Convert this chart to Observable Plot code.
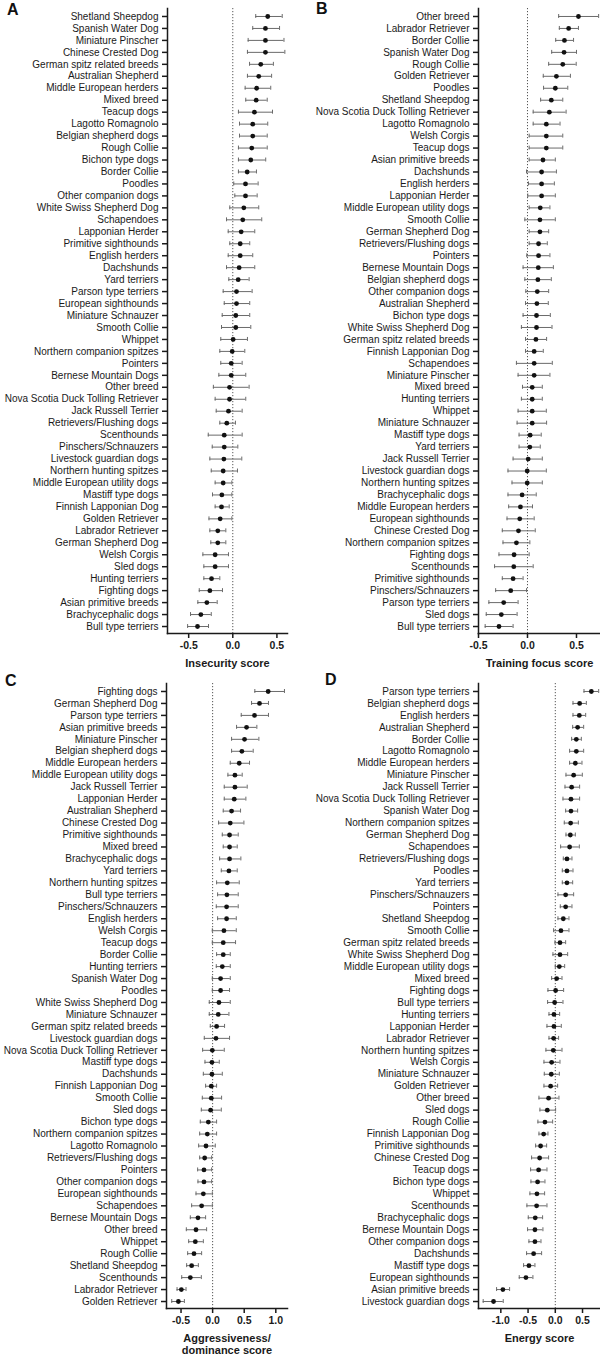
<!DOCTYPE html>
<html>
<head>
<meta charset="utf-8">
<script src="https://cdn.jsdelivr.net/npm/d3@7"></script>
<script src="https://cdn.jsdelivr.net/npm/@observablehq/plot@0.6"></script>
<style>
  html, body { margin: 0; padding: 0; background: #fff; }
  #wrap { position: relative; width: 600px; height: 1357px; overflow: hidden; font-family: "Liberation Sans", Arial, sans-serif; }
  .panel { position: absolute; }
  .letter { position: absolute; font-size: 16px; font-weight: 800; line-height: 15px; color: #111; }
  svg g[aria-label="x-axis tick label"] text { font-weight: bold; }
</style>
</head>
<body>
<div id="wrap"></div>
<script>
// ---------- Panel A: Insecurity score ----------
const namesA = ["Shetland Sheepdog","Spanish Water Dog","Miniature Pinscher","Chinese Crested Dog","German spitz related breeds","Australian Shepherd","Middle European herders","Mixed breed","Teacup dogs","Lagotto Romagnolo","Belgian shepherd dogs","Rough Collie","Bichon type dogs","Border Collie","Poodles","Other companion dogs","White Swiss Shepherd Dog","Schapendoes","Lapponian Herder","Primitive sighthounds","English herders","Dachshunds","Yard terriers","Parson type terriers","European sighthounds","Miniature Schnauzer","Smooth Collie","Whippet","Northern companion spitzes","Pointers","Bernese Mountain Dogs","Other breed","Nova Scotia Duck Tolling Retriever","Jack Russell Terrier","Retrievers/Flushing dogs","Scenthounds","Pinschers/Schnauzers","Livestock guardian dogs","Northern hunting spitzes","Middle European utility dogs","Mastiff type dogs","Finnish Lapponian Dog","Golden Retriever","Labrador Retriever","German Shepherd Dog","Welsh Corgis","Sled dogs","Hunting terriers","Fighting dogs","Asian primitive breeds","Brachycephalic dogs","Bull type terriers"];
const meanA = [0.396,0.37,0.37,0.37,0.317,0.294,0.27,0.265,0.245,0.226,0.226,0.215,0.204,0.163,0.144,0.144,0.125,0.113,0.095,0.084,0.084,0.072,0.061,0.042,0.042,0.034,0.034,0.004,-0.007,-0.018,-0.018,-0.037,-0.037,-0.049,-0.068,-0.097,-0.097,-0.101,-0.109,-0.109,-0.124,-0.128,-0.143,-0.17,-0.17,-0.2,-0.2,-0.241,-0.26,-0.294,-0.362,-0.4];
const loA = [0.26,0.226,0.174,0.166,0.19,0.166,0.14,0.147,0.064,0.076,0.076,0.064,0.064,0.064,0.011,0.023,-0.034,-0.071,-0.052,-0.034,-0.052,-0.071,-0.045,-0.109,-0.097,-0.12,-0.128,-0.136,-0.147,-0.136,-0.158,-0.22,-0.2,-0.188,-0.147,-0.278,-0.233,-0.26,-0.244,-0.2,-0.23,-0.2,-0.27,-0.26,-0.249,-0.339,-0.328,-0.328,-0.38,-0.396,-0.479,-0.512];
const hiA = [0.56,0.53,0.58,0.59,0.46,0.44,0.43,0.39,0.45,0.396,0.39,0.39,0.373,0.268,0.287,0.276,0.294,0.328,0.249,0.192,0.226,0.249,0.185,0.219,0.192,0.192,0.204,0.166,0.136,0.106,0.147,0.185,0.147,0.106,0.03,0.106,0.057,0.102,0.053,-0.011,-0.011,-0.041,-0.011,-0.079,-0.079,-0.049,-0.049,-0.147,-0.117,-0.177,-0.244,-0.275];
const ticksA = [-0.5, 0, 0.5];

// ---------- Panel B: Training focus score ----------
const namesB = ["Other breed","Labrador Retriever","Border Collie","Spanish Water Dog","Rough Collie","Golden Retriever","Poodles","Shetland Sheepdog","Nova Scotia Duck Tolling Retriever","Lagotto Romagnolo","Welsh Corgis","Teacup dogs","Asian primitive breeds","Dachshunds","English herders","Lapponian Herder","Middle European utility dogs","Smooth Collie","German Shepherd Dog","Retrievers/Flushing dogs","Pointers","Bernese Mountain Dogs","Belgian shepherd dogs","Other companion dogs","Australian Shepherd","Bichon type dogs","White Swiss Shepherd Dog","German spitz related breeds","Finnish Lapponian Dog","Schapendoes","Miniature Pinscher","Mixed breed","Hunting terriers","Whippet","Miniature Schnauzer","Mastiff type dogs","Yard terriers","Jack Russell Terrier","Livestock guardian dogs","Northern hunting spitzes","Brachycephalic dogs","Middle European herders","European sighthounds","Chinese Crested Dog","Northern companion spitzes","Fighting dogs","Scenthounds","Primitive sighthounds","Pinschers/Schnauzers","Parson type terriers","Sled dogs","Bull type terriers"];
const meanB = [0.52,0.42,0.377,0.373,0.36,0.295,0.284,0.243,0.223,0.192,0.192,0.192,0.158,0.144,0.144,0.144,0.13,0.127,0.127,0.113,0.113,0.11,0.106,0.1,0.096,0.092,0.092,0.086,0.068,0.068,0.068,0.048,0.048,0.048,0.048,0.027,0.024,0.007,-0.003,-0.003,-0.055,-0.072,-0.079,-0.092,-0.113,-0.137,-0.14,-0.147,-0.171,-0.243,-0.267,-0.291];
const loB = [0.318,0.325,0.288,0.247,0.216,0.161,0.164,0.134,0.058,0.058,0.017,0.017,0.017,-0.01,0.01,0.003,0.017,-0.027,0.017,0.017,-0.007,-0.045,-0.027,-0.017,-0.02,-0.045,-0.062,-0.02,-0.02,-0.113,-0.096,-0.051,-0.062,-0.096,-0.106,-0.086,-0.086,-0.147,-0.199,-0.158,-0.199,-0.192,-0.209,-0.257,-0.25,-0.291,-0.336,-0.257,-0.325,-0.394,-0.421,-0.432];
const hiB = [0.726,0.52,0.47,0.5,0.497,0.438,0.411,0.36,0.394,0.332,0.36,0.36,0.284,0.295,0.274,0.284,0.229,0.284,0.216,0.202,0.229,0.264,0.243,0.216,0.212,0.233,0.25,0.195,0.161,0.253,0.229,0.151,0.151,0.192,0.195,0.14,0.13,0.151,0.192,0.151,0.089,0.051,0.068,0.079,0.024,0.017,0.058,-0.045,-0.01,-0.096,-0.106,-0.147];
const ticksB = [-0.5, 0, 0.5];

// ---------- Panel C: Aggressiveness/dominance score ----------
const namesC = ["Fighting dogs","German Shepherd Dog","Parson type terriers","Asian primitive breeds","Miniature Pinscher","Belgian shepherd dogs","Middle European herders","Middle European utility dogs","Jack Russell Terrier","Lapponian Herder","Australian Shepherd","Chinese Crested Dog","Primitive sighthounds","Mixed breed","Brachycephalic dogs","Yard terriers","Northern hunting spitzes","Bull type terriers","Pinschers/Schnauzers","English herders","Welsh Corgis","Teacup dogs","Border Collie","Hunting terriers","Spanish Water Dog","Poodles","White Swiss Shepherd Dog","Miniature Schnauzer","German spitz related breeds","Livestock guardian dogs","Nova Scotia Duck Tolling Retriever","Mastiff type dogs","Dachshunds","Finnish Lapponian Dog","Smooth Collie","Sled dogs","Bichon type dogs","Northern companion spitzes","Lagotto Romagnolo","Retrievers/Flushing dogs","Pointers","Other companion dogs","European sighthounds","Schapendoes","Bernese Mountain Dogs","Other breed","Whippet","Rough Collie","Shetland Sheepdog","Scenthounds","Labrador Retriever","Golden Retriever"];
const meanC = [0.879,0.742,0.663,0.537,0.505,0.463,0.421,0.353,0.353,0.342,0.3,0.279,0.268,0.268,0.268,0.258,0.232,0.226,0.221,0.221,0.179,0.168,0.168,0.153,0.126,0.126,0.1,0.089,0.063,0.053,-0.005,-0.011,-0.011,-0.021,-0.021,-0.032,-0.068,-0.084,-0.105,-0.126,-0.137,-0.137,-0.147,-0.174,-0.232,-0.263,-0.274,-0.295,-0.332,-0.353,-0.495,-0.542];
const loC = [0.668,0.616,0.453,0.379,0.3,0.3,0.279,0.242,0.184,0.184,0.168,0.095,0.153,0.168,0.111,0.137,0.063,0.079,0.058,0.079,-0.005,-0.005,0.063,0.058,-0.005,-0.005,-0.053,-0.053,-0.037,-0.132,-0.158,-0.121,-0.147,-0.111,-0.163,-0.179,-0.195,-0.205,-0.221,-0.205,-0.237,-0.232,-0.263,-0.332,-0.353,-0.416,-0.379,-0.395,-0.411,-0.489,-0.563,-0.647];
const hiC = [1.137,0.884,0.884,0.7,0.732,0.642,0.584,0.468,0.547,0.526,0.442,0.495,0.405,0.389,0.447,0.389,0.421,0.405,0.405,0.374,0.374,0.363,0.279,0.279,0.279,0.268,0.279,0.258,0.189,0.268,0.184,0.105,0.153,0.063,0.142,0.137,0.063,0.063,0.042,-0.016,-0.016,-0.016,-0.005,-0.005,-0.111,-0.095,-0.147,-0.174,-0.226,-0.179,-0.421,-0.447];
const ticksC = [-0.5, 0, 0.5, 1.0];

// ---------- Panel D: Energy score ----------
const namesD = ["Parson type terriers","Belgian shepherd dogs","English herders","Australian Shepherd","Border Collie","Lagotto Romagnolo","Middle European herders","Miniature Pinscher","Jack Russell Terrier","Nova Scotia Duck Tolling Retriever","Spanish Water Dog","Northern companion spitzes","German Shepherd Dog","Schapendoes","Retrievers/Flushing dogs","Poodles","Yard terriers","Pinschers/Schnauzers","Pointers","Shetland Sheepdog","Smooth Collie","German spitz related breeds","White Swiss Shepherd Dog","Middle European utility dogs","Mixed breed","Fighting dogs","Bull type terriers","Hunting terriers","Lapponian Herder","Labrador Retriever","Northern hunting spitzes","Welsh Corgis","Miniature Schnauzer","Golden Retriever","Other breed","Sled dogs","Rough Collie","Finnish Lapponian Dog","Primitive sighthounds","Chinese Crested Dog","Teacup dogs","Bichon type dogs","Whippet","Scenthounds","Brachycephalic dogs","Bernese Mountain Dogs","Other companion dogs","Dachshunds","Mastiff type dogs","European sighthounds","Asian primitive breeds","Livestock guardian dogs"];
const meanD = [0.662,0.447,0.441,0.41,0.386,0.386,0.368,0.337,0.3,0.288,0.288,0.282,0.276,0.263,0.214,0.214,0.214,0.19,0.19,0.147,0.104,0.086,0.086,0.074,0.025,0.006,-0.012,-0.025,-0.025,-0.031,-0.037,-0.067,-0.074,-0.086,-0.123,-0.147,-0.19,-0.214,-0.27,-0.288,-0.306,-0.325,-0.337,-0.343,-0.368,-0.374,-0.374,-0.398,-0.484,-0.539,-0.962,-1.134];
const loD = [0.527,0.325,0.325,0.319,0.3,0.263,0.263,0.196,0.178,0.141,0.19,0.165,0.196,0.098,0.147,0.129,0.129,0.049,0.092,0.049,-0.031,-0.006,-0.043,0,-0.067,-0.135,-0.141,-0.116,-0.153,-0.116,-0.172,-0.208,-0.202,-0.208,-0.3,-0.282,-0.319,-0.3,-0.361,-0.435,-0.453,-0.447,-0.466,-0.521,-0.496,-0.509,-0.484,-0.527,-0.582,-0.662,-1.078,-1.324];
const hiD = [0.797,0.57,0.558,0.521,0.478,0.521,0.49,0.496,0.447,0.447,0.41,0.423,0.368,0.441,0.306,0.325,0.319,0.337,0.306,0.251,0.251,0.19,0.227,0.172,0.123,0.153,0.141,0.08,0.11,0.061,0.123,0.086,0.074,0.043,0.067,0.006,-0.049,-0.135,-0.159,-0.123,-0.153,-0.19,-0.196,-0.153,-0.233,-0.227,-0.263,-0.251,-0.374,-0.411,-0.839,-0.956];
const ticksD = [-1.0, -0.5, 0, 0.5];

const panels = [
  {letter: "A", names: namesA, mean: meanA, lo: loA, hi: hiA, ticks: ticksA, domain: [-0.74, 0.62], title: "Insecurity score",
   left: 0, top: 0, height: 675, marginLeft: 167, marginRight: 13, lx: 7, ly: 2},
  {letter: "B", names: namesB, mean: meanB, lo: loB, hi: hiB, ticks: ticksB, domain: [-0.5, 0.745], title: "Training focus score",
   left: 300, top: 0, height: 675, marginLeft: 178, marginRight: 0, lx: 316, ly: 1},
  {letter: "C", names: namesC, mean: meanC, lo: loC, hi: hiC, ticks: ticksC, domain: [-0.73, 1.185], title: "Aggressiveness/\ndominance score",
   left: 0, top: 675, height: 682, marginLeft: 166, marginRight: 13, lx: 5, ly: 673},
  {letter: "D", names: namesD, mean: meanD, lo: loD, hi: hiD, ticks: ticksD, domain: [-1.41, 0.83], title: "Energy score",
   left: 300, top: 675, height: 682, marginLeft: 178, marginRight: 0, lx: 325, ly: 672}
];

const wrap = document.getElementById("wrap");
const fmt = d => d.toFixed(1);
const barColor = "#6a6a6a";

for (const p of panels) {
  const data = p.names.map((n, i) => ({name: n, mean: p.mean[i], lo: p.lo[i], hi: p.hi[i]}));
  const axisBottom = 633;
  const twoLines = p.title.includes("\n");
  const chart = Plot.plot({
    width: 300,
    height: p.height,
    marginTop: 8,
    marginBottom: p.height - axisBottom,
    marginLeft: p.marginLeft,
    marginRight: p.marginRight,
    style: {fontFamily: "'Liberation Sans', Arial, sans-serif", fontSize: "10px", color: "#1a1a1a", background: "transparent", overflow: "visible"},
    x: {domain: p.domain},
    y: {type: "band", domain: p.names, range: [10, 632], padding: 0},
    marks: [
      Plot.ruleX([0], {stroke: "#555", strokeDasharray: "1.2,1.8", strokeWidth: 1}),
      Plot.ruleY(data, {y: "name", x1: "lo", x2: "hi", stroke: barColor, strokeWidth: 1}),
      Plot.tickX(data, {x: "lo", y: "name", stroke: barColor, strokeWidth: 1, insetTop: 4, insetBottom: 4}),
      Plot.tickX(data, {x: "hi", y: "name", stroke: barColor, strokeWidth: 1, insetTop: 4, insetBottom: 4}),
      Plot.dot(data, {x: "mean", y: "name", r: 2.4, fill: "#111", stroke: null}),
      Plot.axisY({tickSize: 5, tickPadding: 4, strokeWidth: 1.5, stroke: "#1a1a1a", label: null, fontSize: 10}),
      Plot.axisX({ticks: p.ticks, tickFormat: fmt, tickSize: 5, tickPadding: 3, strokeWidth: 1.5, stroke: "#1a1a1a", label: null, fontSize: 10.5, fontWeight: "bold"}),
      Plot.frame({anchor: "left", stroke: "#1a1a1a", strokeWidth: 1.5}),
      Plot.frame({anchor: "bottom", stroke: "#1a1a1a", strokeWidth: 1.5}),
      Plot.text([p.title], {text: d => d, frameAnchor: "bottom", dy: twoLines ? 36 : 30, lineAnchor: "middle", lineHeight: 1.09,
        fontSize: 11, fontWeight: "bold", fill: "#1a1a1a"})
    ]
  });
  const div = document.createElement("div");
  div.className = "panel";
  div.style.left = p.left + "px";
  div.style.top = p.top + "px";
  div.appendChild(chart);
  wrap.appendChild(div);

  const lab = document.createElement("div");
  lab.className = "letter";
  lab.style.left = p.lx + "px";
  lab.style.top = p.ly + "px";
  lab.textContent = p.letter;
  wrap.appendChild(lab);
}
</script>
</body>
</html>
